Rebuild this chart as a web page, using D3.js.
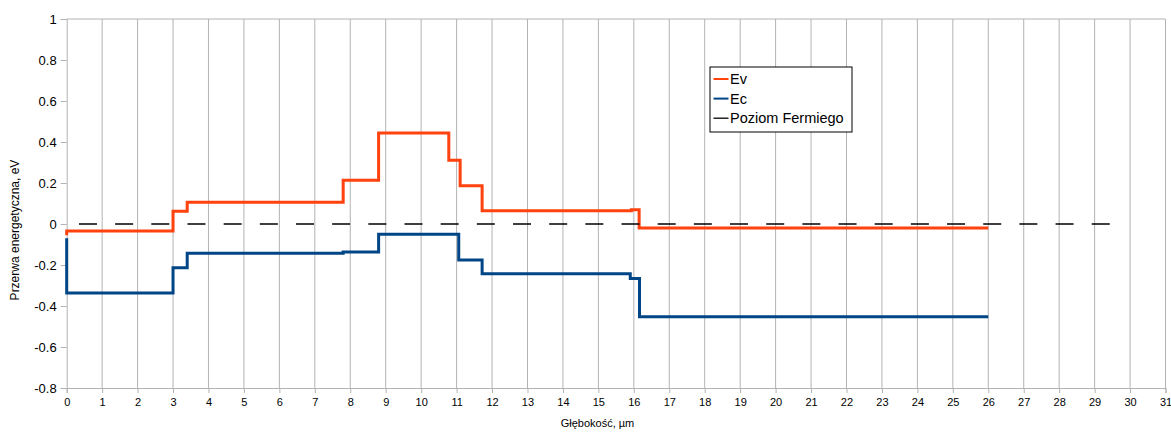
<!DOCTYPE html>
<html>
<head>
<meta charset="utf-8">
<script src="https://cdn.jsdelivr.net/npm/d3@7"></script>
<style>
  body { margin: 0; background: #fff; }
  text { font-family: "Liberation Sans", Arial, sans-serif; fill: #000; }
</style>
</head>
<body>
<div id="chart"></div>
<script>
var width = 1171,
    height = 437,
    margin = { top: 19, right: 5.5, bottom: 49, left: 66.7 };

// data
var evDepth = [0, 0, 3, 3.4, 7.8, 8.8, 10.78, 11.1, 11.72, 15.93, 16.15, 26]
var evValue = [-0.055, -0.034, 0.062, 0.106, 0.214, 0.444, 0.311, 0.187, 0.065, 0.07, -0.02, -0.02]

var ecDepth = [0, 0, 3, 3.4, 7.8, 8.8, 11.06, 11.72, 15.9, 16.16, 26]
var ecValue = [-0.07, -0.337, -0.214, -0.143, -0.137, -0.05, -0.176, -0.243, -0.266, -0.453, -0.453]

var fermiDepth = [0, 29.5]
var fermiValue = [0, 0]

var xTicks = d3.range(0, 32)
var yTicks = [-0.8, -0.6, -0.4, -0.2, 0, 0.2, 0.4, 0.6, 0.8, 1]

var seriesNames = ['Ev', 'Ec', 'Poziom Fermiego']
var colors = ['#ff420e', '#004586', '#000000']

var series = [
    { name: seriesNames[0], color: colors[0], pts: d3.zip(evDepth, evValue) },
    { name: seriesNames[1], color: colors[1], pts: d3.zip(ecDepth, ecValue) },
    { name: seriesNames[2], color: colors[2], pts: d3.zip(fermiDepth, fermiValue) }
]

var svg = d3.select('#chart')
    .append('svg')
    .attr('width', width)
    .attr('height', height)

var pw = width - margin.left - margin.right,
    ph = height - margin.top - margin.bottom

// scales
var xscale = d3.scaleLinear().domain([0, 31]).range([0, pw])
var yscale = d3.scaleLinear().domain([-0.8, 1]).range([ph, 0])

var g = svg.append('g')
    .attr('transform', `translate(${margin.left},${margin.top})`)

// vertical grid
g.append('g').selectAll('line')
    .data(xTicks.slice(1))
    .enter()
    .append('line')
    .attr('x1', d => xscale(d))
    .attr('x2', d => xscale(d))
    .attr('y1', 0)
    .attr('y2', ph)
    .attr('stroke', '#b3b3b3')
    .attr('stroke-width', 1)

// top border
g.append('line')
    .attr('x1', 0).attr('x2', pw)
    .attr('y1', 0).attr('y2', 0)
    .attr('stroke', '#b3b3b3')

// axes
var xaxis = d3.axisBottom(xscale)
    .tickValues(xTicks)
    .tickFormat(d3.format('d'))
    .tickSize(5)
    .tickPadding(5)
var gx = g.append('g')
    .attr('transform', `translate(0,${ph})`)
    .call(xaxis)
gx.select('.domain').attr('stroke', '#b3b3b3')
gx.selectAll('.tick line').attr('stroke', '#b3b3b3')
gx.selectAll('text').style('font-size', '11px').attr('fill', '#000')

var yaxis = d3.axisLeft(yscale)
    .tickValues(yTicks)
    .tickFormat(d => String(+d.toFixed(1)))
    .tickSize(6)
    .tickPadding(4)
var gy = g.append('g').call(yaxis)
gy.select('.domain').attr('stroke', '#b3b3b3')
gy.selectAll('.tick line').attr('stroke', '#b3b3b3')
gy.selectAll('text').style('font-size', '13px').attr('fill', '#000')

// axis titles
svg.append('text')
    .attr('x', 597.5)
    .attr('y', 427)
    .attr('text-anchor', 'middle')
    .style('font-size', '11px')
    .text('Głębokość, µm')

svg.append('text')
    .attr('transform', 'translate(19,230) rotate(-90)')
    .attr('text-anchor', 'middle')
    .style('font-size', '12px')
    .text('Przerwa energetyczna, eV')

// lines
var line = d3.line()
    .x(d => xscale(d[0]))
    .y(d => yscale(d[1]))
    .curve(d3.curveStepAfter)

g.selectAll('path.series')
    .data(series)
    .enter()
    .append('path')
    .attr('class', 'series')
    .attr('d', d => line(d.pts))
    .attr('fill', 'none')
    .attr('stroke', d => d.color)
    .attr('stroke-width', d => d.name == 'Poziom Fermiego' ? 1.3 : 3)
    .attr('stroke-dasharray', d => d.name == 'Poziom Fermiego' ? '18,18.17' : null)
    .attr('stroke-dashoffset', d => d.name == 'Poziom Fermiego' ? 23.9 : null)

// legend
var legend = svg.append('g').attr('transform', 'translate(710,67)')
legend.append('rect')
    .attr('width', 142)
    .attr('height', 65)
    .attr('fill', '#fff')
    .attr('stroke', '#000')
    .attr('stroke-width', 1)
var items = legend.selectAll('g.item')
    .data(series)
    .enter()
    .append('g')
    .attr('class', 'item')
    .attr('transform', (d, i) => `translate(0,${12 + i * 19.6})`)
items.append('line')
    .attr('x1', 3.5).attr('x2', 18.5)
    .attr('stroke', d => d.color)
    .attr('stroke-width', d => d.name == 'Poziom Fermiego' ? 1.3 : 2)
items.append('text')
    .attr('x', 20)
    .attr('dy', '0.35em')
    .style('font-size', '14.5px')
    .text(d => d.name)
</script>
</body>
</html>
